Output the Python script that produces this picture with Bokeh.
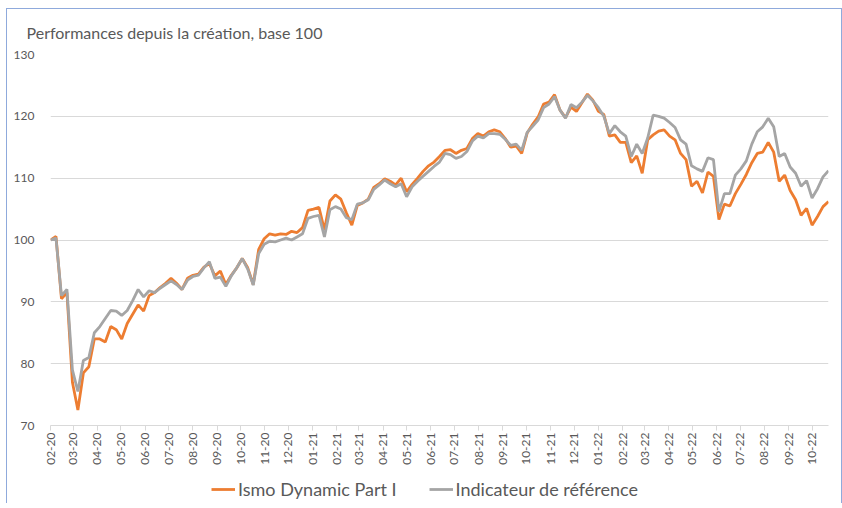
import math
import pandas as pd
from bokeh.plotting import figure
from bokeh.layouts import column
from bokeh.models import Range1d, FixedTicker, DatetimeTickFormatter, Legend, LegendItem
from bokeh.embed import file_html
from bokeh.resources import INLINE

# ---- data (weekly readings, base 100) ----
start_date = "2020-02-14"
ismo = [100, 100.6, 90.5, 91.5, 77, 72.5, 78.5, 79.5, 84, 84,
        83.5, 86, 85.5, 84, 86.5, 88, 89.5, 88.5, 91, 91.5,
        92.3, 93, 93.8, 93, 92, 93.8, 94.3, 94.5, 95.6, 96.2,
        94.2, 95, 92.8, 94.3, 95.5, 97, 95.5, 92.8, 98.5, 100.2,
        101, 100.8, 101, 100.9, 101.4, 101.2, 102, 104.8, 105, 105.3,
        101.6, 106.3, 107.3, 106.6, 104.4, 102.4, 105.6, 106, 106.6, 108.5,
        109.1, 109.9, 109.5, 108.9, 110, 107.8, 109, 110, 111.1, 112,
        112.6, 113.5, 114.5, 114.6, 114, 114.5, 114.8, 116.4, 117.2, 116.8,
        117.5, 117.8, 117.5, 116.4, 115, 115.2, 114, 117.3, 118.7, 119.9,
        122, 122.3, 123.5, 121, 119.8, 121.5, 120.8, 122.2, 123.6, 122.6,
        120.8, 120.3, 116.8, 117, 115.8, 115.8, 112.5, 113.6, 110.8, 116.2,
        117, 117.6, 117.8, 116.8, 116.2, 114, 113, 108.7, 109.5, 107.6,
        111, 110.3, 103.3, 105.8, 105.5, 107.5, 109, 110.6, 112.5, 114,
        114.2, 115.8, 114.2, 109.5, 110.5, 108, 106.5, 104, 105.1, 102.4,
        103.8, 105.4, 106.2]
reference = [100, 100.3, 91, 92, 79, 75.5, 80.5, 81, 85, 86,
             87.3, 88.6, 88.5, 87.8, 88.6, 90.2, 92, 90.8, 91.8, 91.5,
             92.2, 92.8, 93.4, 92.8, 92, 93.5, 94.1, 94.3, 95.5, 96.5,
             93.8, 94, 92.5, 94.2, 95.5, 97, 95.3, 92.7, 97.8, 99.3,
             99.8, 99.7, 100, 100.3, 100, 100.5, 101, 103.5, 103.8, 104,
             100.5, 104.9, 105.4, 105, 103.6, 103.3, 105.8, 106, 106.5, 108.2,
             108.9, 109.7, 109.1, 108.6, 109.1, 107, 108.6, 109.5, 110.3, 111.1,
             111.9, 112.6, 114, 113.8, 113.2, 113.5, 114.3, 116, 116.8, 116.5,
             117.2, 117.2, 117.1, 116.3, 115.3, 115.5, 114.5, 117.4, 118.4, 119.4,
             121.4, 122, 123.2, 121, 119.7, 121.9, 121.4, 122.3, 123.4, 122.5,
             121.4, 120, 117.2, 118.5, 117.5, 116.8, 113.5, 115.5, 114, 116.5,
             120.2, 120, 119.7, 119, 118.2, 116.2, 115.5, 112, 111.5, 111.1,
             113.3, 113, 104.6, 107.5, 107.5, 110.5, 111.5, 112.8, 115.5, 117.5,
             118.3, 119.7, 118.3, 113.5, 114, 111.8, 110.8, 108.7, 109.6, 106.8,
             108.3, 110.2, 111.2]
month_labels = ["02-20", "03-20", "04-20", "05-20", "06-20", "07-20", "08-20", "09-20",
                "10-20", "11-20", "12-20", "01-21", "02-21", "03-21", "04-21", "05-21",
                "06-21", "07-21", "08-21", "09-21", "10-21", "11-21", "12-21", "01-22",
                "02-22", "03-22", "04-22", "05-22", "06-22", "07-22", "08-22", "09-22", "10-22"]
y_ticks = [70, 80, 90, 100, 110, 120, 130]
series_names = ["Ismo Dynamic Part I", "Indicateur de référence"]
series_colors = ["#ED7D31", "#A5A5A5"]
title_text = "Performances depuis la création, base 100"

dates = pd.date_range(start_date, periods=len(ismo), freq="7D")
tick_dates = [pd.Timestamp(f"20{m[3:]}-{m[:2]}-14") for m in month_labels]
tick_ms = [t.value / 1e6 for t in tick_dates]

FONT = "Lato"
TXT = "#595959"
W = 834

p = figure(width=W, height=466, x_axis_type="datetime",
           output_backend="svg", toolbar_location=None,
           x_range=Range1d(dates[0], dates[-1]), y_range=Range1d(70, 130),
           min_border_left=43, min_border_right=13, min_border_top=45, min_border_bottom=50,
           outline_line_color=None, background_fill_color="white", border_fill_color="white")

p.title.text = title_text
p.title.text_font = FONT
p.title.text_font_size = "16px"
p.title.text_font_style = "normal"
p.title.text_color = TXT
p.title.align = "left"
p.title.vertical_align = "top"
p.title.offset = -24
p.title.standoff = 22

r1 = p.line(dates, ismo, line_color=series_colors[0], line_width=2.8)
r2 = p.line(dates, reference, line_color=series_colors[1], line_width=2.8)

p.xgrid.grid_line_color = None
p.ygrid.grid_line_color = "#D9D9D9"
p.ygrid.grid_line_width = 1

p.yaxis.ticker = FixedTicker(ticks=y_ticks)
p.yaxis.axis_line_color = None
p.yaxis.major_tick_line_color = None
p.yaxis.minor_tick_line_color = None
p.yaxis.major_label_text_font = FONT
p.yaxis.major_label_text_font_size = "12px"
p.yaxis.major_label_text_color = TXT
p.yaxis.major_label_standoff = 10

p.xaxis.ticker = FixedTicker(ticks=tick_ms)
fmt = "%m-%y"
p.xaxis.formatter = DatetimeTickFormatter(milliseconds=fmt, seconds=fmt, minsec=fmt, minutes=fmt,
                                          hourmin=fmt, hours=fmt, days=fmt, months=fmt, years=fmt)
p.xaxis.axis_line_color = "#D9D9D9"
p.xaxis.major_tick_line_color = "#D9D9D9"
p.xaxis.major_tick_out = 5
p.xaxis.major_tick_in = 0
p.xaxis.minor_tick_line_color = None
p.xaxis.major_label_orientation = math.pi / 2
p.xaxis.major_label_text_font = FONT
p.xaxis.major_label_text_font_size = "12px"
p.xaxis.major_label_text_color = TXT
p.xaxis.major_label_standoff = 2

# legend strip below the chart (its sample lines sit outside the visible range)
lg = figure(width=W, height=28, output_backend="svg", toolbar_location=None,
            x_range=Range1d(0, 1), y_range=Range1d(0, 1),
            x_axis_location=None, y_axis_location=None,
            min_border=0, outline_line_color=None, border_fill_color="white")
lg.grid.visible = False
l1 = lg.line([5, 6], [5, 6], line_color=series_colors[0], line_width=2.8)
l2 = lg.line([5, 6], [5, 6], line_color=series_colors[1], line_width=2.8)
legend = Legend(items=[LegendItem(label=series_names[0], renderers=[l1]),
                       LegendItem(label=series_names[1], renderers=[l2])],
                orientation="horizontal", location=(161, 3),
                border_line_color=None, background_fill_alpha=0,
                label_text_font=FONT, label_text_font_size="18px", label_text_color=TXT,
                glyph_width=24, glyph_height=20, label_standoff=3, spacing=32,
                padding=2, margin=0)
lg.add_layout(legend, "center")

layout = column(p, lg, spacing=0,
                styles={"border-left": "1px solid #8FAADC", "border-top": "1px solid #8FAADC",
                        "border-right": "1px solid #8FAADC", "margin-left": "6px",
                        "margin-top": "8px"})

open("out.html", "w").write(file_html(layout, INLINE))
